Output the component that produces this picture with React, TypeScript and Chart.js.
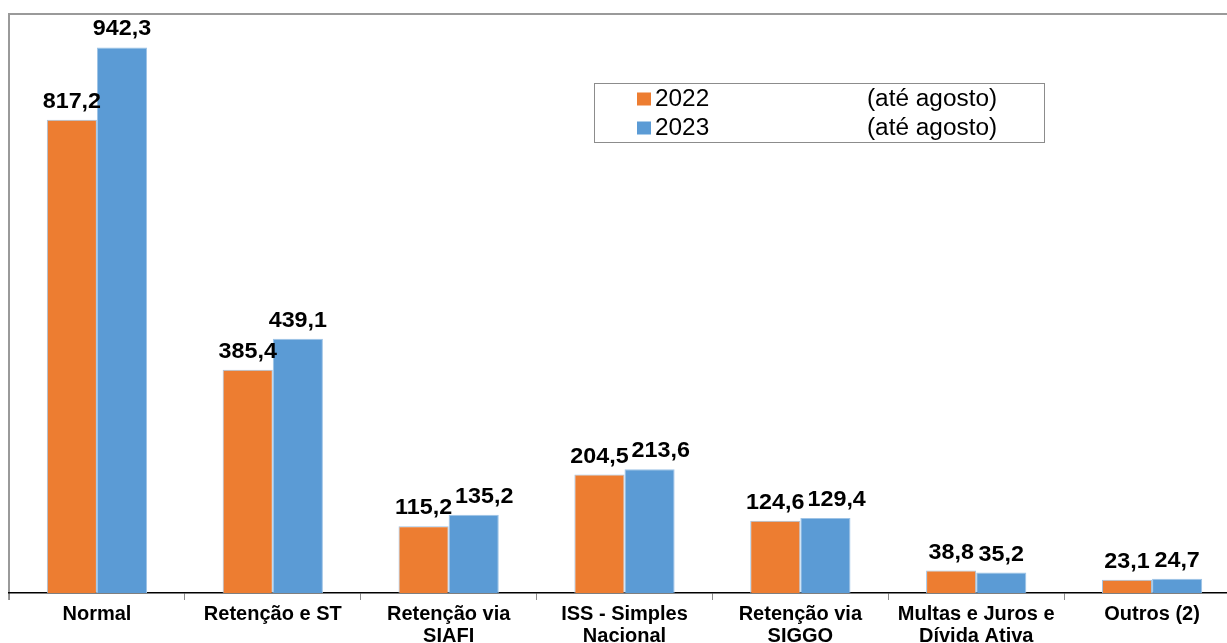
import React, { useEffect, useRef } from "react";
import { Chart, registerables } from "chart.js";

Chart.register(...registerables);

const categories: (string | string[])[] = [
  "Normal",
  "Retenção e ST",
  ["Retenção via", "SIAFI"],
  ["ISS - Simples", "Nacional"],
  ["Retenção via", "SIGGO"],
  ["Multas e Juros e", "Dívida Ativa"],
  "Outros (2)",
];
const values2022 = [817.2, 385.4, 115.2, 204.5, 124.6, 38.8, 23.1];
const values2023 = [942.3, 439.1, 135.2, 213.6, 129.4, 35.2, 24.7];
const seriesNames = ["2022", "2023"];
const seriesNotes = ["(até agosto)", "(até agosto)"];
const colors = ["#ED7D31", "#5B9BD5"];

const FONT = '"Liberation Sans", Arial, sans-serif';
const fmt = (v: number) => v.toFixed(1).replace(".", ",");

const framePlugin = {
  id: "frame",
  beforeDraw(chart: any) {
    const { ctx, chartArea, width } = chart;
    ctx.save();
    ctx.strokeStyle = "#9a9a9a";
    ctx.lineWidth = 2;
    ctx.beginPath();
    ctx.moveTo(chartArea.left, chartArea.bottom + 7);
    ctx.lineTo(chartArea.left, chartArea.top);
    ctx.lineTo(width, chartArea.top);
    ctx.stroke();
    ctx.restore();
  },
};

// draws text slightly widened, like the reference rendering
function wideText(ctx: any, text: string, x: number, y: number, sx: number) {
  ctx.save();
  ctx.translate(x, y);
  ctx.scale(sx, 1);
  ctx.fillText(text, 0, 0);
  ctx.restore();
}

const labelPlugin = {
  id: "valueLabels",
  afterDatasetsDraw(chart: any) {
    const { ctx } = chart;
    ctx.save();
    const sx = 1.06;
    ctx.font = `bold 22px ${FONT}`;
    ctx.fillStyle = "#000";
    ctx.textAlign = "center";
    ctx.textBaseline = "alphabetic";
    const m0 = chart.getDatasetMeta(0);
    const m1 = chart.getDatasetMeta(1);
    const d0 = chart.data.datasets[0].data as number[];
    const d1 = chart.data.datasets[1].data as number[];
    const textH = 17;
    for (let i = 0; i < d0.length; i++) {
      const b0 = m0.data[i];
      const b1 = m1.data[i];
      const t0 = fmt(d0[i]);
      const t1 = fmt(d1[i]);
      const w0 = ctx.measureText(t0).width * sx;
      const w1 = ctx.measureText(t1).width * sx;
      const y0 = b0.y - 12;
      const y1 = b1.y - 12;
      let x0 = b0.x;
      let x1 = b1.x;
      const vOverlap = Math.abs(y0 - y1) < textH;
      const gap = x1 - w1 / 2 - (x0 + w0 / 2);
      if (vOverlap && gap < 3) {
        x1 += 3 - gap;
      }
      wideText(ctx, t0, x0, y0, sx);
      wideText(ctx, t1, x1, y1, sx);
    }
    ctx.restore();
  },
};

const legendPlugin = {
  id: "boxLegend",
  afterDraw(chart: any) {
    const { ctx } = chart;
    ctx.save();
    const bx = 594.5, by = 83.5, bw = 450, bh = 59;
    ctx.fillStyle = "#fff";
    ctx.fillRect(bx, by, bw, bh);
    ctx.strokeStyle = "#8c8c8c";
    ctx.lineWidth = 1;
    ctx.strokeRect(bx, by, bw, bh);
    ctx.font = `23px ${FONT}`;
    ctx.textBaseline = "middle";
    ctx.textAlign = "left";
    const rows = [99, 128];
    seriesNames.forEach((name, i) => {
      const cy = rows[i];
      ctx.fillStyle = colors[i];
      ctx.fillRect(637, cy - 6.5, 14, 13);
      ctx.fillStyle = "#000";
      wideText(ctx, name, 655, cy + 1, 1.06);
      wideText(ctx, seriesNotes[i], 867, cy + 1, 1.06);
    });
    ctx.restore();
  },
};

export default function App() {
  const ref = useRef<HTMLCanvasElement | null>(null);
  useEffect(() => {
    if (!ref.current) return;
    const chart = new Chart(ref.current, {
      type: "bar",
      data: {
        labels: categories,
        datasets: [
          {
            label: seriesNames[0],
            data: values2022,
            backgroundColor: colors[0],
            borderColor: "#9dc3e6",
            borderWidth: 1,
          },
          {
            label: seriesNames[1],
            data: values2023,
            backgroundColor: colors[1],
            borderColor: "#9dc3e6",
            borderWidth: 1,
          },
        ],
      },
      options: {
        responsive: false,
        animation: false,
        devicePixelRatio: 1,
        layout: { padding: { left: 9, top: 14, right: 10, bottom: 0 } },
        datasets: { bar: { categoryPercentage: 0.57, barPercentage: 1.0 } },
        plugins: { legend: { display: false }, tooltip: { enabled: false } },
        scales: {
          y: { display: false, min: 0, max: 1000 },
          x: {
            afterFit: (s: any) => {
              s.height = 87;
            },
            border: { display: true, color: "#000", width: 1.5 },
            grid: {
              drawOnChartArea: false,
              drawTicks: true,
              tickLength: 7,
              color: "#8c8c8c",
              offset: true,
            },
            ticks: {
              color: "#000",
              padding: 3,
              maxRotation: 0,
              autoSkip: false,
              font: { family: FONT, size: 20, weight: "bold", lineHeight: 1.1 },
            },
          },
        },
      },
      plugins: [framePlugin, labelPlugin, legendPlugin],
    });
    return () => chart.destroy();
  }, []);
  return (
    <div
      style={{
        position: "fixed",
        left: 0,
        top: 0,
        width: 1227,
        height: 643,
        overflow: "hidden",
        background: "#fff",
      }}
    >
      <canvas ref={ref} width={1250} height={680} style={{ display: "block" }} />
    </div>
  );
}
